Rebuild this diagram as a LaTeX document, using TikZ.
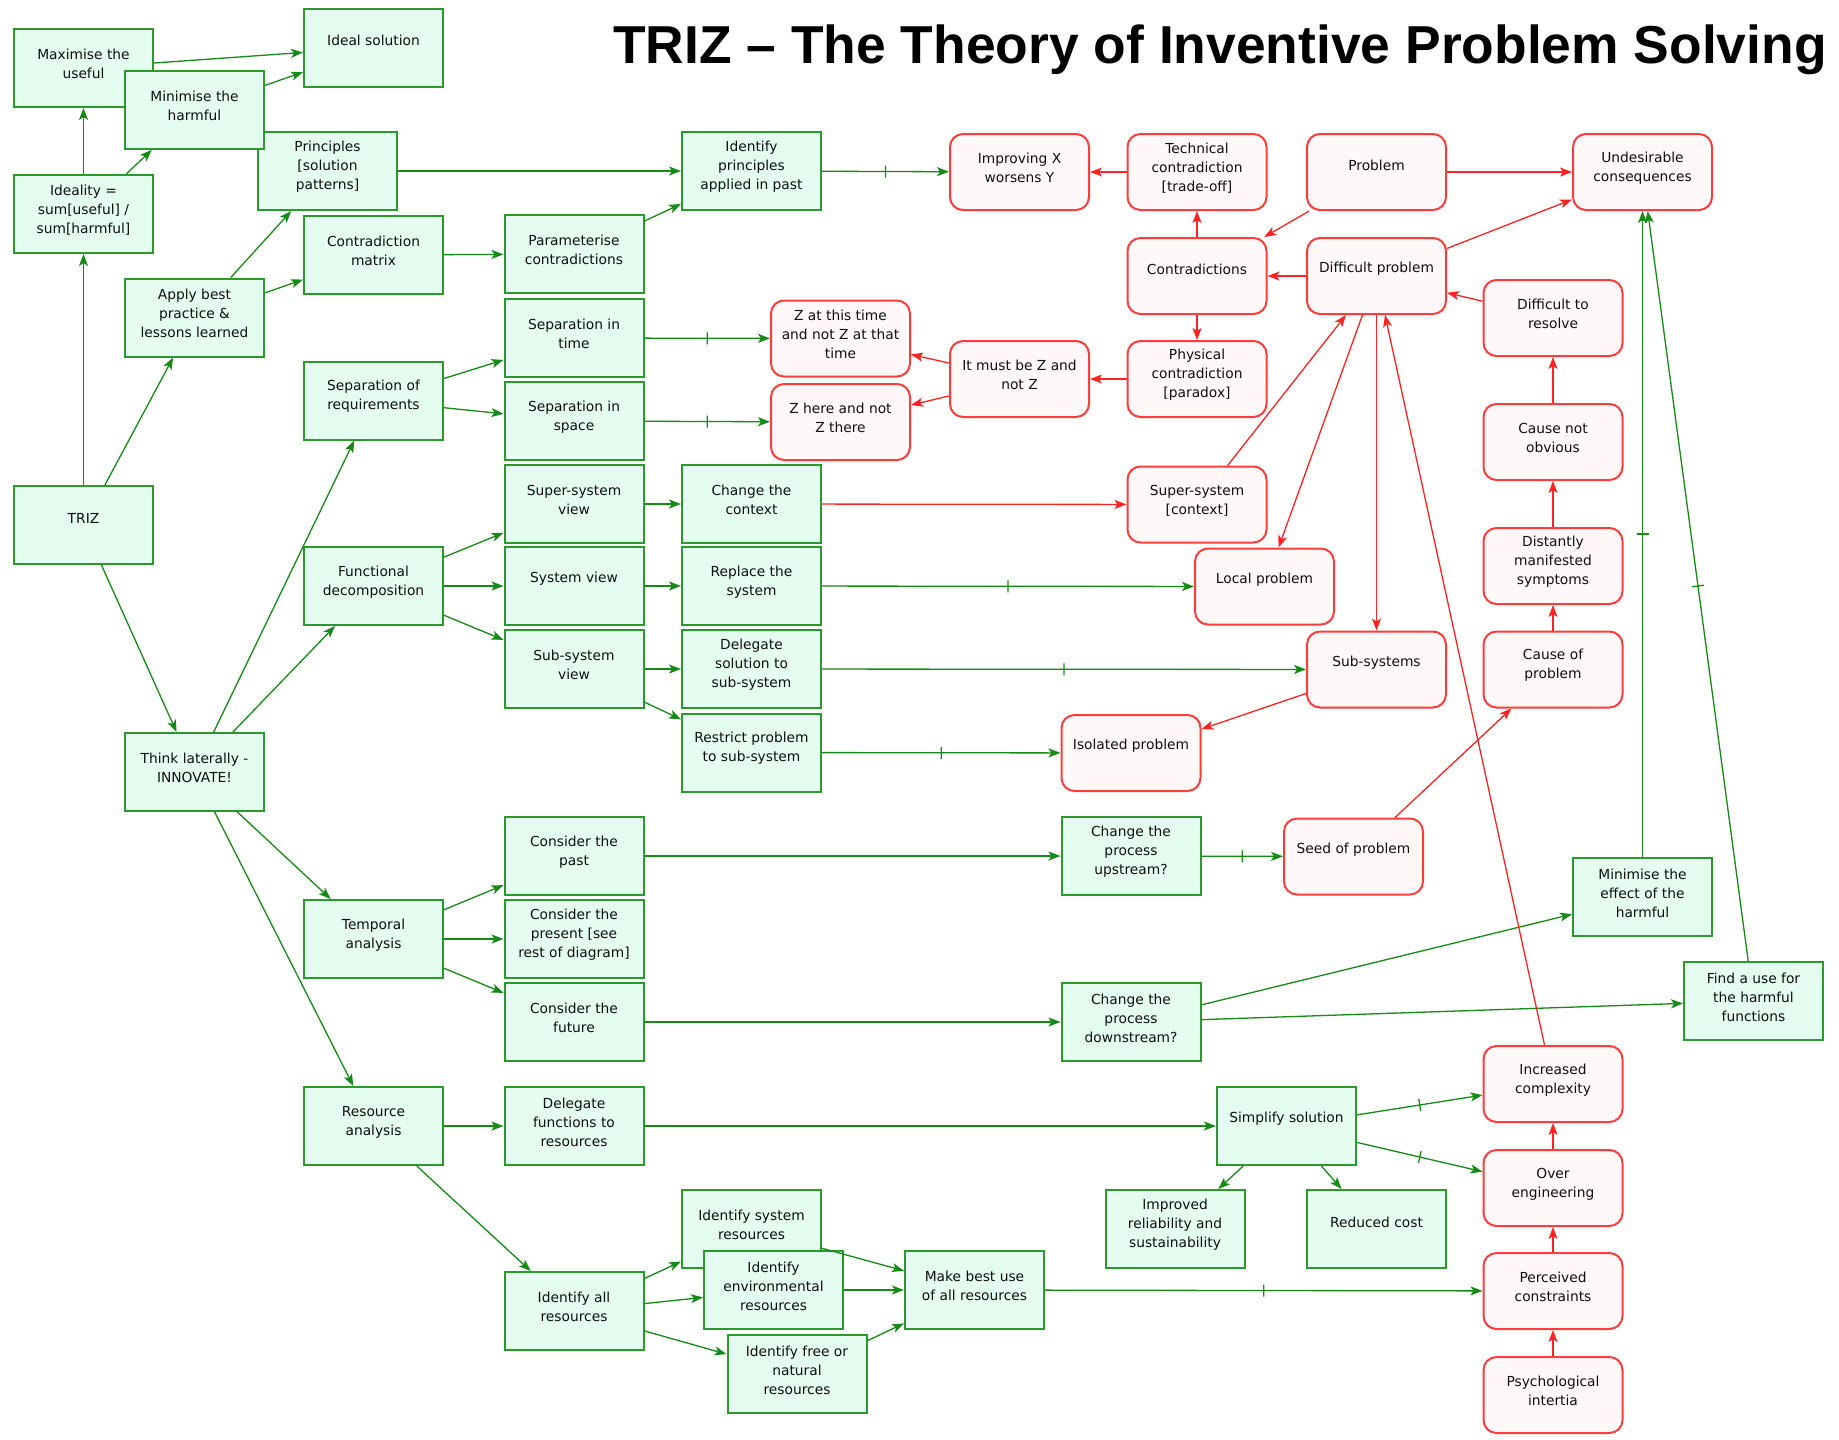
\documentclass[tikz,border=0pt]{standalone}
\usepackage{fontspec}
\usetikzlibrary{arrows.meta,decorations.markings}
\newfontfamily\boxfont{DejaVu Sans}
\newfontfamily\headfont{Liberation Sans}

\definecolor{boxgreen}{RGB}{42,154,42}
\definecolor{fillgreen}{RGB}{228,253,240}
\definecolor{linegreen}{RGB}{22,138,22}
\definecolor{boxred}{RGB}{255,60,60}
\definecolor{fillred}{RGB}{255,248,248}
\definecolor{linered}{RGB}{255,34,34}
\definecolor{ink}{RGB}{15,15,15}

\tikzset{
  gbox/.style={draw=boxgreen, fill=fillgreen, line width=2pt,
    minimum width=139pt, minimum height=78pt, inner sep=0pt},
  rbox/.style={draw=boxred, fill=fillred, line width=2pt, rounded corners=13pt,
    minimum width=139pt, minimum height=76pt, inner sep=0pt},
  lbl/.style={font=\boxfont\fontsize{13.8}{19}\selectfont, text=ink,
    align=center, inner sep=0pt},
  tip/.tip={Stealth[length=12pt,width=9pt,inset=3pt]},
  glink/.style={draw=linegreen, line width=1.3pt, -tip},
  rlink/.style={draw=linered, line width=1.3pt, -tip},
  tickmark/.style={postaction={decorate, decoration={markings,
    mark=at position 0.5 with {\draw[-, draw=linegreen, line width=1.3pt] (0,-6) -- (0,6);}}}},
}

% box with its label; the optional argument lifts the label above the centre
\newcommand\gn[5][4]{\node[gbox] (#2) at (#3,#4) {};
  \node[lbl] (#2-t) at ([yshift=#1pt]#2.center) {#5};}
\newcommand\rn[5][4]{\node[rbox] (#2) at (#3,#4) {};
  \node[lbl] (#2-t) at ([yshift=#1pt]#2.center) {#5};}

\begin{document}
\begin{tikzpicture}[x=1pt,y=-1pt]
\fill[white] (0,0) rectangle (1839,1440);
\useasboundingbox (0,0) rectangle (1839,1440);

\node[anchor=base west, inner sep=0pt, text=black,
  font=\headfont\bfseries\fontsize{53.4}{60}\selectfont] (title) at (613,63)
  {TRIZ – The Theory of Inventive Problem Solving};

% ---- green: solution side ----
\gn{maxuse}{83.5}{68}{Maximise the\\useful}
\gn[7]{ideal}{373.5}{47.5}{Ideal solution}
\gn{principles}{327.5}{171}{Principles\\{[}solution\\patterns]}
\gn{minharm}{194.5}{110}{Minimise the\\harmful}
\gn{ideality}{83.5}{214}{Ideality =\\sum[useful] /\\sum[harmful]}
\gn{cmatrix}{373.5}{255}{Contradiction\\matrix}
\gn{bestprac}{194.5}{317.5}{Apply best\\practice \&\\lessons learned}
\gn{sepreq}{373.5}{400.5}{Separation of\\requirements}
\gn[7]{triz}{83.5}{525}{TRIZ}
\gn{funcdec}{373.5}{586}{Functional\\decomposition}
\gn{think}{194.5}{772}{Think laterally -\\INNOVATE!}
\gn{temporal}{373.5}{939}{Temporal\\analysis}
\gn{resource}{373.5}{1126}{Resource\\analysis}
\gn{idprin}{751.5}{171}{Identify\\principles\\applied in past}
\gn{param}{574}{254}{Parameterise\\contradictions}
\gn{septime}{574}{338}{Separation in\\time}
\gn{sepspace}{574}{421}{Separation in\\space}
\gn{supview}{574}{504}{Super-system\\view}
\gn{context}{751.5}{504}{Change the\\context}
\gn[7]{sysview}{574}{586}{System view}
\gn{replace}{751.5}{586}{Replace the\\system}
\gn{subview}{574}{669}{Sub-system\\view}
\gn{delegsol}{751.5}{669}{Delegate\\solution to\\sub-system}
\gn{restrict}{751.5}{752.5}{Restrict problem\\to sub-system}
\gn{past}{574}{856}{Consider the\\past}
\gn{present}{574}{939}{Consider the\\present [see\\rest of diagram]}
\gn{future}{574}{1022}{Consider the\\future}
\gn{delegfun}{574}{1126}{Delegate\\functions to\\resources}
\gn{idsys}{751.5}{1229}{Identify system\\resources}
\gn{idenv}{773.5}{1290}{Identify\\environmental\\resources}
\gn{idall}{574}{1311}{Identify all\\resources}
\gn{idfree}{797}{1374}{Identify free or\\natural\\resources}
\gn{bestuse}{974.5}{1290}{Make best use\\of all resources}
\gn{upstream}{1131}{856}{Change the\\process\\upstream?}
\gn{downstream}{1131}{1022}{Change the\\process\\downstream?}
\gn[7]{simplify}{1286.5}{1126}{Simplify solution}
\gn{reliab}{1175}{1229}{Improved\\reliability and\\sustainability}
\gn[7]{cost}{1376.5}{1229}{Reduced cost}
\gn{mineffect}{1642.5}{897}{Minimise the\\effect of the\\harmful}
\gn{finduse}{1753.5}{1001}{Find a use for\\the harmful\\functions}

% ---- red: problem side ----
\rn{zthis}{840.5}{338.5}{Z at this time\\and not Z at that\\time}
\rn{zhere}{840.5}{422}{Z here and not\\Z there}
\rn{improving}{1019.5}{172}{Improving X\\worsens Y}
\rn{technical}{1197}{172}{Technical\\contradiction\\{[}trade-off]}
\rn[7]{problem}{1376.5}{172}{Problem}
\rn{undesir}{1642.5}{172}{Undesirable\\consequences}
\rn[7]{contra}{1197}{276}{Contradictions}
\rn[7]{difficult}{1376.5}{276}{Difficult problem}
\rn{mustz}{1019.5}{379}{It must be Z and\\not Z}
\rn{physical}{1197}{379}{Physical\\contradiction\\{[}paradox]}
\rn{diffres}{1553}{318}{Difficult to\\resolve}
\rn{notobv}{1553}{442}{Cause not\\obvious}
\rn{supctx}{1197}{504.5}{Super-system\\{[}context]}
\rn[7]{local}{1264.5}{586.5}{Local problem}
\rn[7]{subsys}{1376.5}{669.5}{Sub-systems}
\rn[7]{isolated}{1131}{753}{Isolated problem}
\rn[7]{seed}{1353.5}{856.5}{Seed of problem}
\rn{distant}{1553}{566}{Distantly\\manifested\\symptoms}
\rn{causeprob}{1553}{669.5}{Cause of\\problem}
\rn{complexity}{1553}{1084}{Increased\\complexity}
\rn{overeng}{1553}{1188}{Over\\engineering}
\rn{perceived}{1553}{1291}{Perceived\\constraints}
\rn{psych}{1553}{1395}{Psychological\\intertia}

% ---- green connectors ----
\draw[glink] (triz) -- (ideality);
\draw[glink] (ideality) -- (maxuse);
\draw[glink] (ideality) -- (minharm);
\draw[glink] (maxuse) -- (ideal);
\draw[glink] (minharm) -- (ideal);
\draw[glink] (triz) -- (bestprac);
\draw[glink] (bestprac) -- (principles);
\draw[glink] (bestprac) -- (cmatrix);
\draw[glink] (principles) -- (idprin);
\draw[glink] (cmatrix) -- (param);
\draw[glink] (param) -- (idprin);
\draw[glink, tickmark] (idprin) -- (improving);
\draw[glink] (triz) -- (think);
\draw[glink] (think) -- (sepreq);
\draw[glink] (think) -- (funcdec);
\draw[glink] (think) -- (temporal);
\draw[glink] (think) -- (resource);
\draw[glink] (sepreq) -- (septime);
\draw[glink] (sepreq) -- (sepspace);
\draw[glink, tickmark] (septime) -- (zthis);
\draw[glink, tickmark] (sepspace) -- (zhere);
\draw[glink] (funcdec) -- (supview);
\draw[glink] (funcdec) -- (sysview);
\draw[glink] (funcdec) -- (subview);
\draw[glink] (supview) -- (context);
\draw[glink] (sysview) -- (replace);
\draw[glink] (subview) -- (delegsol);
\draw[glink] (subview) -- (restrict);
\draw[glink, tickmark] (replace) -- (local);
\draw[glink, tickmark] (delegsol) -- (subsys);
\draw[glink, tickmark] (restrict) -- (isolated);
\draw[glink] (temporal) -- (past);
\draw[glink] (temporal) -- (present);
\draw[glink] (temporal) -- (future);
\draw[glink] (past) -- (upstream);
\draw[glink, tickmark] (upstream) -- (seed);
\draw[glink] (future) -- (downstream);
\draw[glink] (downstream) -- (mineffect);
\draw[glink] (downstream) -- (finduse);
\draw[glink, tickmark] (mineffect) -- (undesir);
\draw[glink, tickmark] (finduse) -- (undesir);
\draw[glink] (resource) -- (delegfun);
\draw[glink] (resource) -- (idall);
\draw[glink] (delegfun) -- (simplify);
\draw[glink, tickmark] (simplify) -- (complexity);
\draw[glink, tickmark] (simplify) -- (overeng);
\draw[glink] (simplify) -- (reliab);
\draw[glink] (simplify) -- (cost);
\draw[glink] (idall) -- (idsys);
\draw[glink] (idall) -- (idenv);
\draw[glink] (idall) -- (idfree);
\draw[glink] (idsys) -- (bestuse);
\draw[glink] (idenv) -- (bestuse);
\draw[glink] (idfree) -- (bestuse);
\draw[glink, tickmark] (bestuse) -- (perceived);

% ---- red connectors ----
\draw[rlink] (context) -- (supctx);
\draw[rlink] (technical) -- (improving);
\draw[rlink] (problem) -- (undesir);
\draw[rlink] (problem) -- (contra);
\draw[rlink] (contra) -- (technical);
\draw[rlink] (difficult) -- (contra);
\draw[rlink] (contra) -- (physical);
\draw[rlink] (physical) -- (mustz);
\draw[rlink] (mustz) -- (zthis);
\draw[rlink] (mustz) -- (zhere);
\draw[rlink] (difficult) -- (undesir);
\draw[rlink] (diffres) -- (difficult);
\draw[rlink] (notobv) -- (diffres);
\draw[rlink] (distant) -- (notobv);
\draw[rlink] (causeprob) -- (distant);
\draw[rlink] (supctx) -- (difficult);
\draw[rlink] (difficult) -- (local);
\draw[rlink] (difficult) -- (subsys);
\draw[rlink] (subsys) -- (isolated);
\draw[rlink] (seed) -- (causeprob);
\draw[rlink] (complexity) -- (difficult);
\draw[rlink] (overeng) -- (complexity);
\draw[rlink] (perceived) -- (overeng);
\draw[rlink] (psych) -- (perceived);
\end{tikzpicture}
\end{document}
